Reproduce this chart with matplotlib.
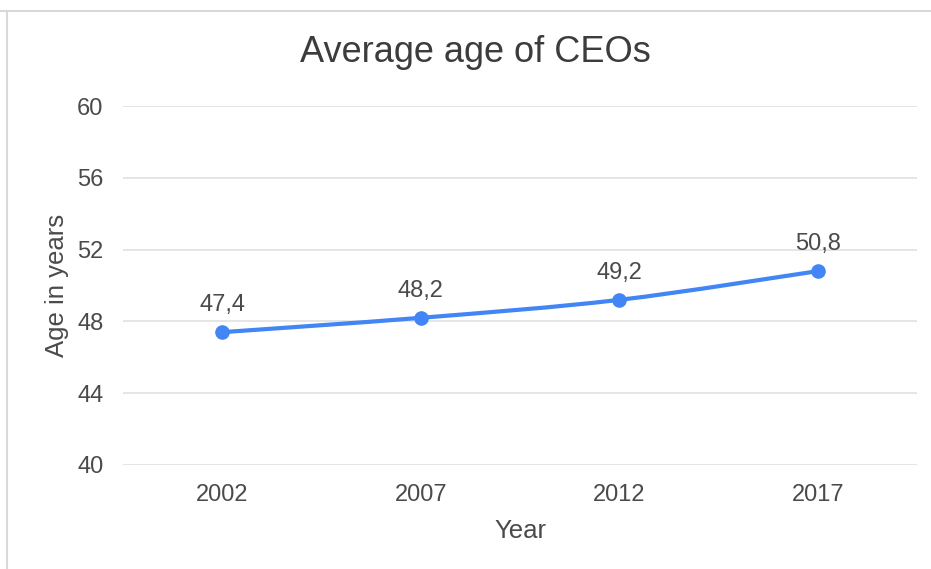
import matplotlib.pyplot as plt
from matplotlib.path import Path
from matplotlib.patches import PathPatch
import numpy as np

plt.rcParams['font.family'] = ['Liberation Sans', 'DejaVu Sans']

years = ['2002', '2007', '2012', '2017']
avg_age = [47.4, 48.2, 49.2, 50.8]
y_ticks = [40, 44, 48, 52, 56, 60]

line_color = '#4285F4'
text_color = '#4a4a4a'
grid_color = '#e0e0e0'

fig = plt.figure(figsize=(9.31, 5.69), dpi=100)
ax = fig.add_axes([0.1321, 0.1828, 0.8529, 0.6309])

x = np.arange(len(years))
y = np.array(avg_age)


# smooth curve through the points (cubic bezier, catmull-rom style tangents)
def smooth_path(xs, ys, k=1 / 6):
    verts = [(xs[0], ys[0])]
    codes = [Path.MOVETO]
    n = len(xs)
    for i in range(n - 1):
        x0, y0 = xs[max(i - 1, 0)], ys[max(i - 1, 0)]
        x1, y1 = xs[i], ys[i]
        x2, y2 = xs[i + 1], ys[i + 1]
        x3, y3 = xs[min(i + 2, n - 1)], ys[min(i + 2, n - 1)]
        c1 = (x1 + (x2 - x0) * k, y1 + (y2 - y0) * k)
        c2 = (x2 - (x3 - x1) * k, y2 - (y3 - y1) * k)
        verts += [c1, c2, (x2, y2)]
        codes += [Path.CURVE4] * 3
    return Path(verts, codes)


ax.add_patch(PathPatch(smooth_path(x, y), facecolor='none', edgecolor=line_color,
                       lw=3, capstyle='round', zorder=3))
ax.plot(x, y, 'o', color=line_color, markersize=9.5, zorder=4)

for xi, yi in zip(x, y):
    ax.annotate(f'{yi:.1f}'.replace('.', ','), (xi, yi), xytext=(0, 11.5),
                textcoords='offset points', ha='center', va='bottom',
                fontsize=17, color=text_color)

ax.set_xlim(-0.5, len(years) - 0.5)
ax.set_ylim(40, 60)
ax.set_xticks(x)
ax.set_xticklabels(years)
ax.set_yticks(y_ticks)
ax.tick_params(length=0, labelsize=17, labelcolor=text_color)
ax.tick_params(axis='x', pad=14)
ax.tick_params(axis='y', pad=14)
ax.grid(axis='y', color=grid_color, lw=1.2)
ax.set_axisbelow(True)
for s in ax.spines.values():
    s.set_visible(False)

ax.set_xlabel('Year', fontsize=18.5, color=text_color, labelpad=9)
ax.set_ylabel('Age in years', fontsize=18.5, color=text_color, labelpad=6)
fig.text(0.511, 0.908, 'Average age of CEOs', ha='center', va='center',
         fontsize=26, color='#3c3c3c')

# thin frame on the top and left edges
fig.add_artist(plt.Line2D([0.0, 1.0], [0.980, 0.980], color='#d9d9d9', lw=1.5))
fig.add_artist(plt.Line2D([0.0072, 0.0072], [0.0, 0.980], color='#d9d9d9', lw=1.5))

fig.savefig('out.png', dpi=100, facecolor='white')
